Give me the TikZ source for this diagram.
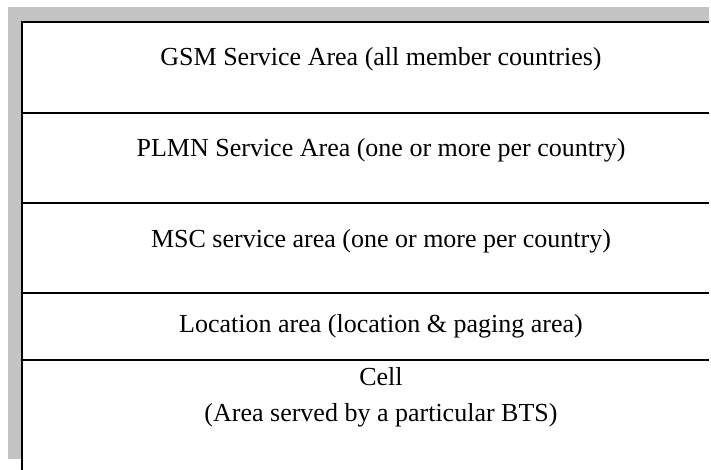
\documentclass[tikz,border=0pt]{standalone}
\usepackage{fontspec}
\setmainfont{Liberation Serif}
\definecolor{shadowgray}{HTML}{C4C4C4}
\begin{document}
\begin{tikzpicture}[x=1pt,y=-1pt,
  sep/.style={line width=1.6pt,black},
  lbl/.style={font=\fontsize{26}{36}\selectfont,align=center,inner sep=0pt}]
\useasboundingbox (0,0) rectangle (711,470);
\fill[fill=shadowgray] (8,7) rectangle (709,459);
\fill[white] (22,22) rectangle (711,470);
\draw[sep] (22,22) -- (709,22);
\draw[line width=2pt] (22,21.2) -- (22,470);
\coordinate (l1) at (22,113); \coordinate (r1) at (709,113);
\coordinate (l2) at (22,203); \coordinate (r2) at (709,203);
\coordinate (l3) at (22,293); \coordinate (r3) at (709,293);
\coordinate (l4) at (22,360); \coordinate (r4) at (709,360);
\draw[sep] (l1) -- (r1);
\draw[sep] (l2) -- (r2);
\draw[sep] (l3) -- (r3);
\draw[sep] (l4) -- (r4);
\node[lbl] (t1) at (381,59) {GSM Service Area (all member countries)};
\node[lbl] (t2) at (381,150) {PLMN Service Area (one or more per country)};
\node[lbl] (t3) at (381,241) {MSC service area (one or more per country)};
\node[lbl] (t4) at (381,326) {Location area (location \& paging area)};
\node[lbl] (t5) at (381,397) {Cell\\(Area served by a particular BTS)};
\end{tikzpicture}
\end{document}
